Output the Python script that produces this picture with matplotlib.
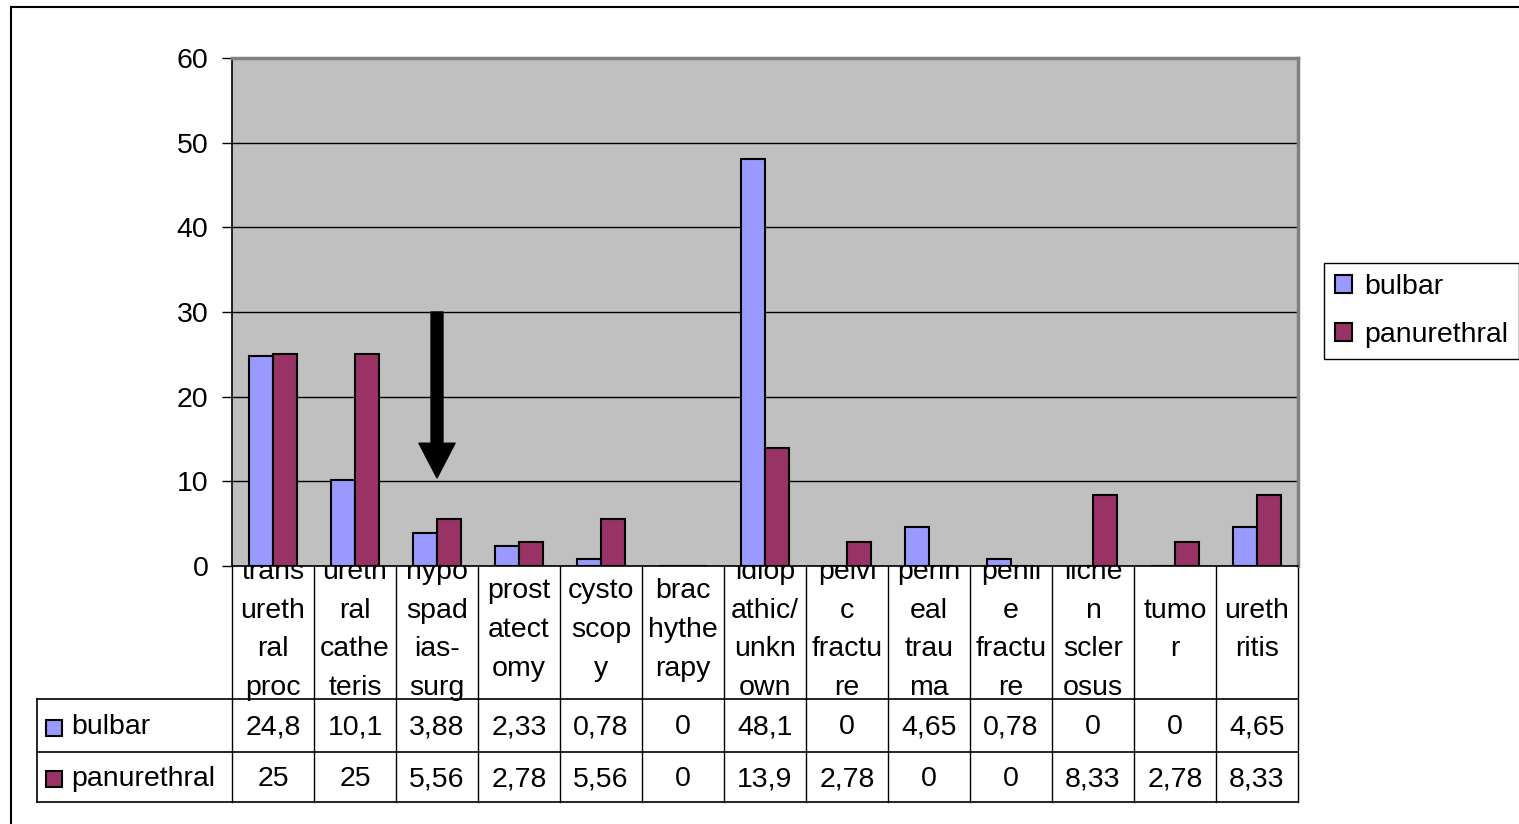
import matplotlib
matplotlib.use("Agg")
import matplotlib.pyplot as plt
from matplotlib.patches import Rectangle
import numpy as np

plt.rcParams['font.family'] = ['Liberation Sans', 'DejaVu Sans']

# ---- data ----
category_lines = [
    ["trans", "ureth", "ral", "proc"],
    ["ureth", "ral", "cathe", "teris"],
    ["hypo", "spad", "ias-", "surg"],
    ["prost", "atect", "omy"],
    ["cysto", "scop", "y"],
    ["brac", "hythe", "rapy"],
    ["idiop", "athic/", "unkn", "own"],
    ["pelvi", "c", "fractu", "re"],
    ["perin", "eal", "trau", "ma"],
    ["penil", "e", "fractu", "re"],
    ["liche", "n", "scler", "osus"],
    ["tumo", "r"],
    ["ureth", "ritis"],
]
series_names = ["bulbar", "panurethral"]
bulbar = [24.8, 10.1, 3.88, 2.33, 0.78, 0, 48.1, 0, 4.65, 0.78, 0, 0, 4.65]
panurethral = [25, 25, 5.56, 2.78, 5.56, 0, 13.9, 2.78, 0, 0, 8.33, 2.78, 8.33]
y_ticks = [0, 10, 20, 30, 40, 50, 60]
arrow_category = 2
arrow_from, arrow_to = 30, 10.4

colors = ["#9999FF", "#993366"]
FS = 20.5

W, H = 1519, 824
fig = plt.figure(figsize=(W / 100, H / 100), dpi=100)

# overlay axes in pixel coordinates (for table & frame)
ov = fig.add_axes([0, 0, 1, 1], zorder=0)
ov.set_xlim(0, W)
ov.set_ylim(H, 0)
ov.axis("off")

# plot area
px0, px1, py0, py1 = 232, 1298, 58, 566
ax = fig.add_axes([px0 / W, 1 - py1 / H, (px1 - px0) / W, (py1 - py0) / H], zorder=1)
ax.set_facecolor("#C0C0C0")

n = len(bulbar)
x = np.arange(n)
bw = 0.293
b1 = ax.bar(x - bw / 2, bulbar, bw, color=colors[0], edgecolor="black", linewidth=1.5, zorder=3)
b2 = ax.bar(x + bw / 2, panurethral, bw, color=colors[1], edgecolor="black", linewidth=1.5, zorder=3)
ax.set_xlim(-0.5, n - 0.5)
ax.set_ylim(0, 60)
ax.set_yticks(y_ticks)
ax.set_yticklabels([str(t) for t in y_ticks], fontsize=FS)
ax.set_xticks([])
ax.yaxis.grid(True, color="black", linewidth=1)
ax.set_axisbelow(True)
ax.tick_params(axis="y", length=7, width=1, pad=10, direction="out")
for s in ["top", "right"]:
    ax.spines[s].set_color("#808080")
    ax.spines[s].set_linewidth(2.5)
ax.spines["left"].set_linewidth(1.2)
ax.spines["bottom"].set_linewidth(1.2)

# arrow
ax.annotate("", xy=(arrow_category, arrow_to), xytext=(arrow_category, arrow_from),
            arrowprops=dict(arrowstyle="simple,head_length=2.5,head_width=2.6,tail_width=0.86",
                            mutation_scale=10, color="black", shrinkA=0, shrinkB=0),
            zorder=5)

# legend
leg = fig.legend([b1, b2], series_names, loc="upper left",
                 bbox_to_anchor=(1324 / W, 1 - 263 / H), borderaxespad=0,
                 fontsize=FS, frameon=True, fancybox=False, edgecolor="black",
                 handlelength=0.6, handleheight=0.6, handletextpad=0.4,
                 labelspacing=0.75, borderpad=0.4, framealpha=1)
leg.get_frame().set_linewidth(1)

# outer border
ov.plot([11, W + 5], [7, 7], color="black", lw=1.5)
ov.plot([11, 11], [7, H + 5], color="black", lw=1.5)

# table geometry
colw = (px1 - px0) / n
label_top, label_bot = py1, 699
r1_bot, r2_bot = 752, 802
tab_left = 37

# category label row
line_sp = 38.7
for i, lines in enumerate(category_lines):
    cx = px0 + colw * (i + 0.5)
    k = len(lines)
    c = 630
    for j, ln in enumerate(lines):
        yy = c + (j - (k - 1) / 2) * line_sp
        ov.text(cx, yy, ln, ha="center", va="center", fontsize=FS)

# grid lines of table
for i in range(n + 1):
    xx = px0 + colw * i
    ov.plot([xx, xx], [label_top, r2_bot], color="black", lw=1)
ov.plot([tab_left, tab_left], [label_bot, r2_bot], color="black", lw=1.2)
for yy in [label_bot, r1_bot, r2_bot]:
    ov.plot([tab_left, px1], [yy, yy], color="black", lw=1.2)

# data rows
def fmt(v):
    return f"{v:g}".replace(".", ",")

row_centers = [(label_bot + r1_bot) / 2 + 2, (r1_bot + r2_bot) / 2 + 2]
for r, (name, vals) in enumerate(zip(series_names, [bulbar, panurethral])):
    yc = row_centers[r]
    ov.add_patch(Rectangle((46, yc - 8), 16, 16, facecolor=colors[r], edgecolor="black", lw=1.5))
    ov.text(71, yc, name, ha="left", va="center", fontsize=FS)
    for i, v in enumerate(vals):
        ov.text(px0 + colw * (i + 0.5), yc, fmt(v), ha="center", va="center", fontsize=FS)

fig.savefig("out.png", dpi=100)
